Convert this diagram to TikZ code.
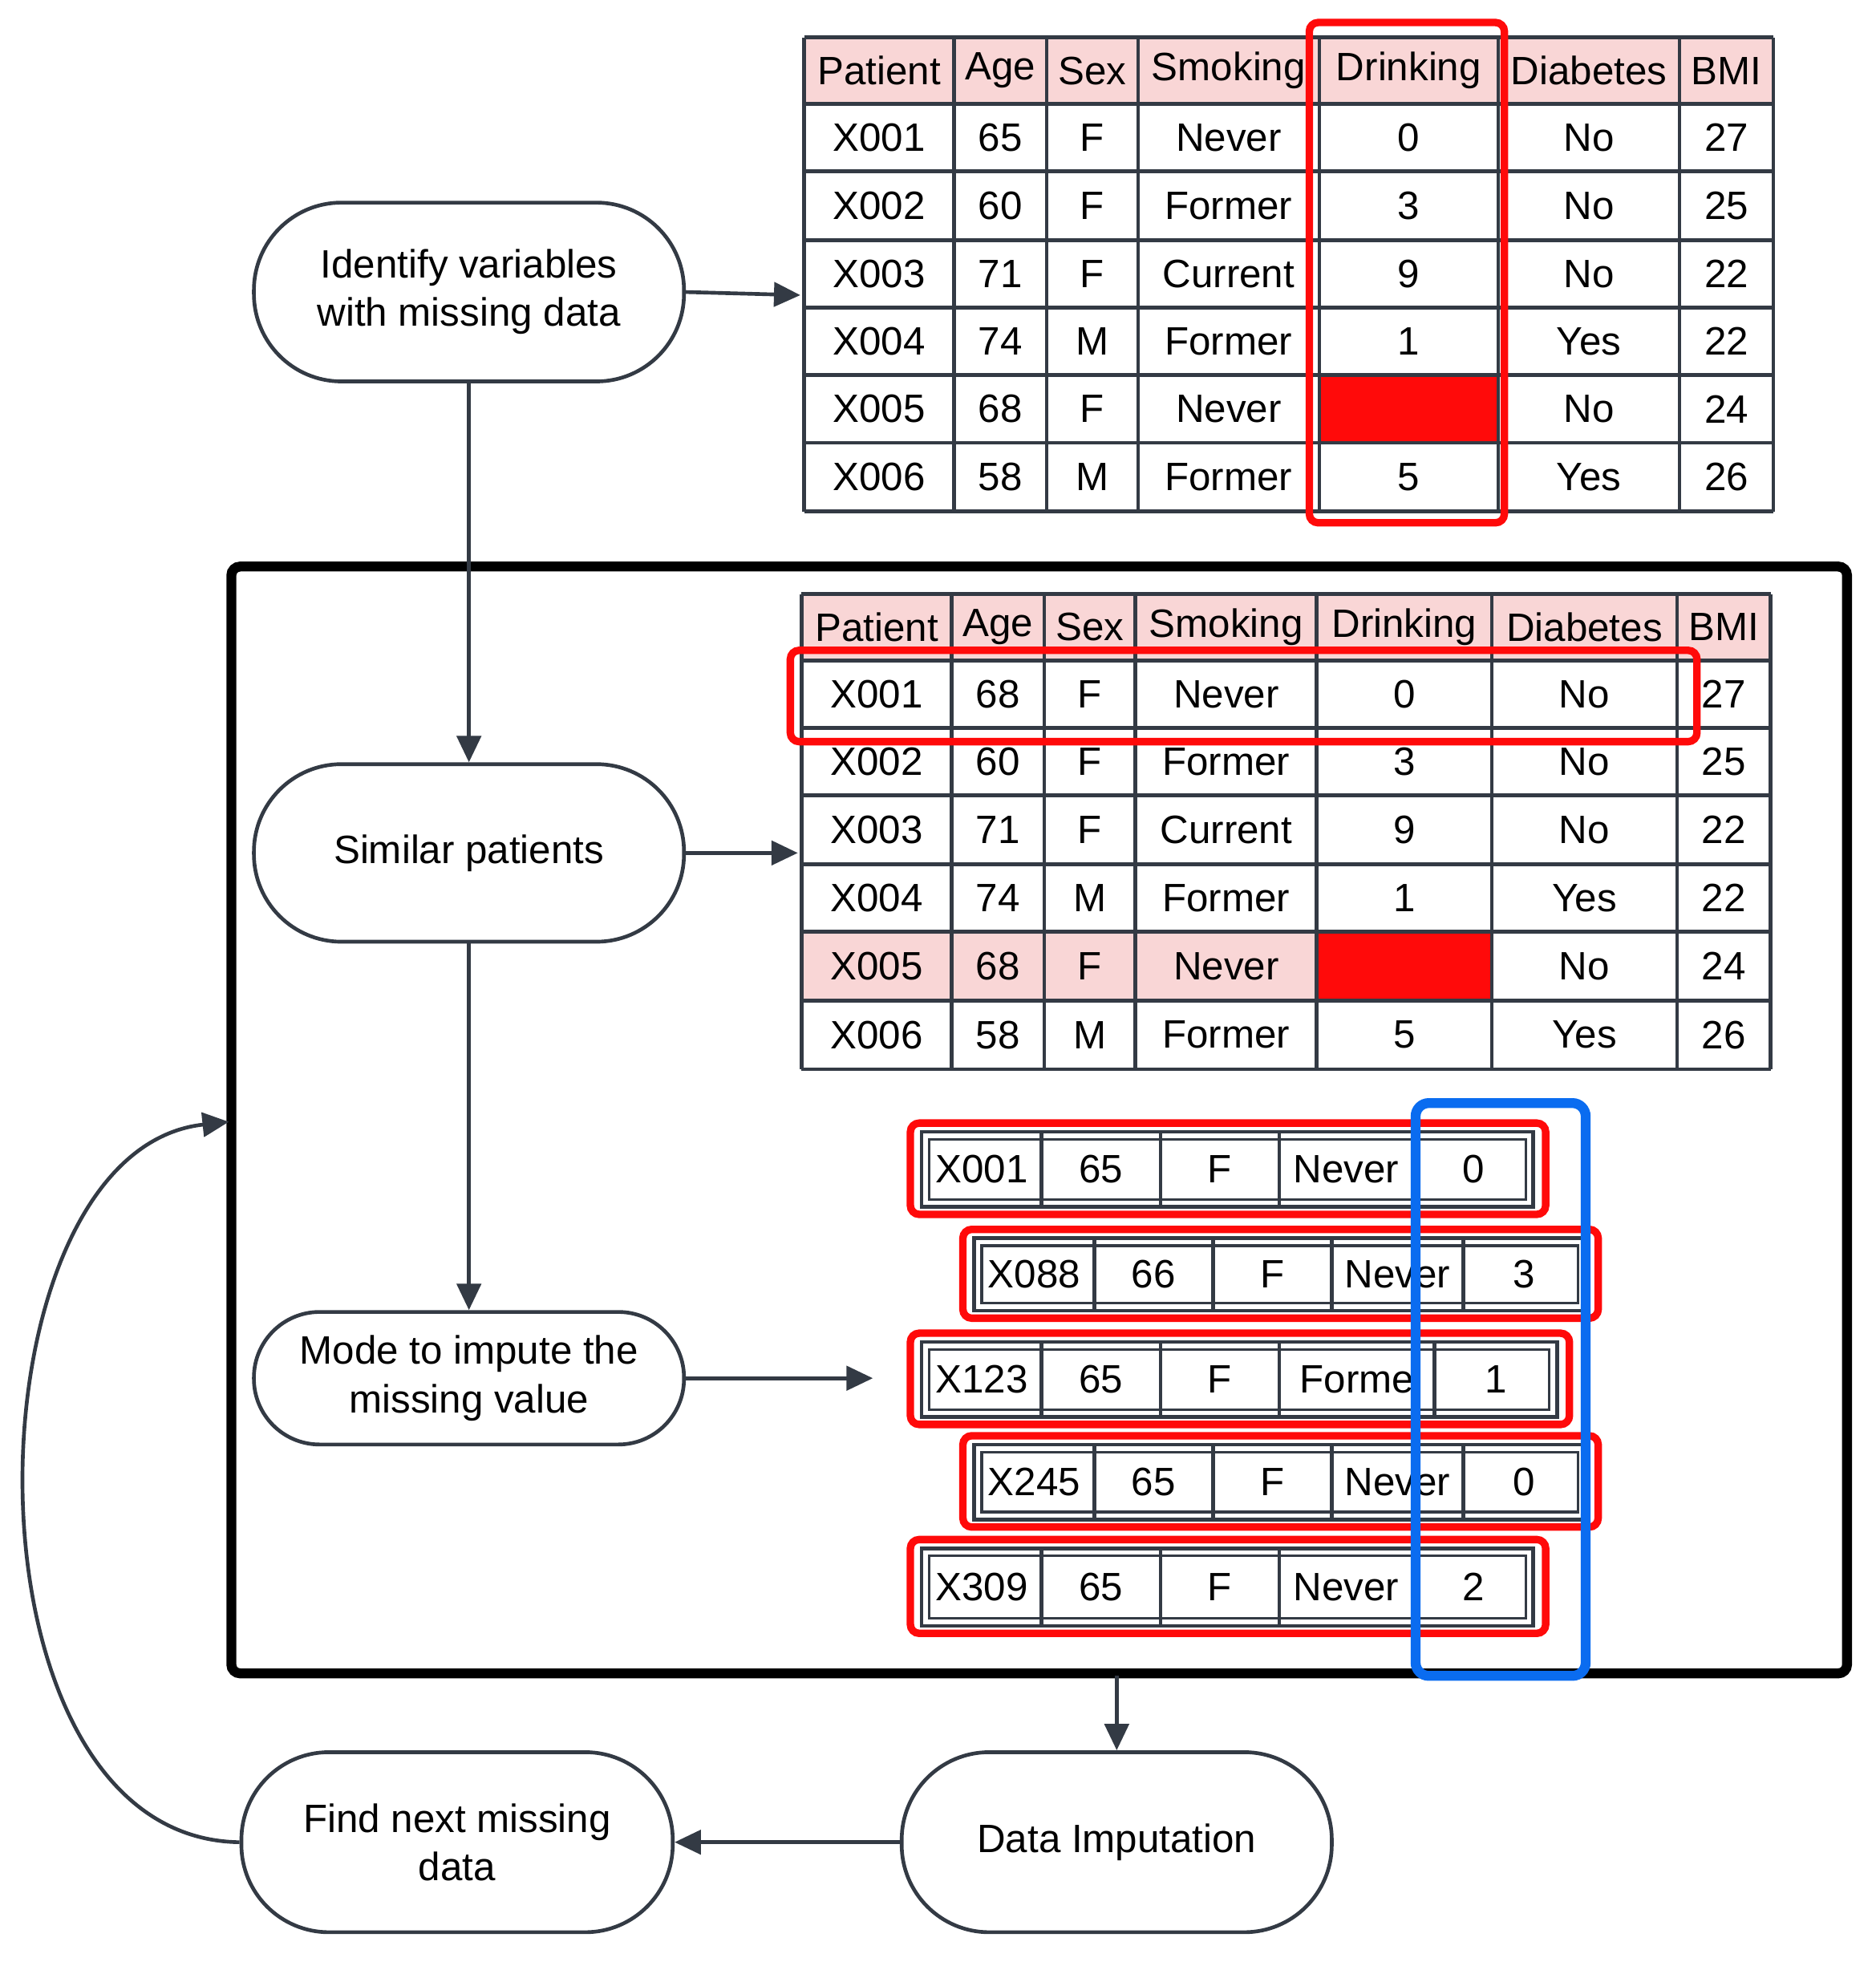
\documentclass[tikz,border=0pt]{standalone}
\usepackage{fontspec}
\setmainfont{Liberation Sans}
\usetikzlibrary{arrows.meta}
\definecolor{gl}{HTML}{333A44}
\definecolor{pk}{HTML}{F9D6D6}
\definecolor{rd}{HTML}{FF0A0A}
\definecolor{bl}{HTML}{0A6CF0}
\begin{document}
\begin{tikzpicture}[x=0.02cm,y=-0.02cm,
  grid/.style={draw=gl,line width=1.7pt},
  txt/.style={font=\fontsize{18}{21}\selectfont,inner sep=0pt},
  stp/.style={draw=gl,line width=1.7pt,rounded corners=1.4cm,align=center,font=\fontsize{18}{22}\selectfont,inner sep=0pt},
  redbox/.style={draw=rd,line width=3.4pt,rounded corners=4pt},
  arr/.style={draw=gl,line width=1.7pt,-{Triangle[length=12pt,width=11pt]}}]
\useasboundingbox (0,0) rectangle (1500,1572);

% ---------- top table
\fill[pk] (643,30) rectangle (1418,83);
\fill[rd] (1055,300) rectangle (1198,354);
\foreach \x in {643,763,837,910,1055,1198,1343,1418} \draw[grid] (\x,30) -- (\x,409);
\foreach \y in {30,83,137,192,246,300,354,409} \draw[grid] (643,\y) -- (1418,\y);
\foreach \r [count=\i] in {{Patient,Age,Sex,Smoking,Drinking,Diabetes,BMI},{X001,65,F,Never,0,No,27},{X002,60,F,Former,3,No,25},{X003,71,F,Current,9,No,22},{X004,74,M,Former,1,Yes,22},{X005,68,F,Never,,No,24},{X006,58,M,Former,5,Yes,26}}{
  \foreach \c [count=\j] in \r {
    \pgfmathsetmacro\cx{{703,800,873.5,982.5,1126.5,1270.5,1380.5}[\j-1]}
    \pgfmathsetmacro\cy{{56.5,110,164.5,219,273,327,381.5}[\i-1]}
    \node[txt] (ta-\i-\j) at (\cx,\cy) {\c};
  }}
\draw[redbox] (1047,18) rectangle (1203,418);

% ---------- big box
\draw[line width=4.5pt,rounded corners=4pt] (185,453) rectangle (1477,1338);
\coordinate (boxL) at (183,897);
\coordinate (boxB) at (893,1340);

% ---------- middle table
\fill[pk] (641,475) rectangle (1416,528);
\fill[pk] (641,745) rectangle (1053,800);
\fill[rd] (1053,745) rectangle (1193,800);
\foreach \x in {641,761,835,908,1053,1193,1341,1416} \draw[grid] (\x,475) -- (\x,855);
\foreach \y in {475,528,582,636,691,745,800,855} \draw[grid] (641,\y) -- (1416,\y);
\foreach \r [count=\i] in {{Patient,Age,Sex,Smoking,Drinking,Diabetes,BMI},{X001,68,F,Never,0,No,27},{X002,60,F,Former,3,No,25},{X003,71,F,Current,9,No,22},{X004,74,M,Former,1,Yes,22},{X005,68,F,Never,,No,24},{X006,58,M,Former,5,Yes,26}}{
  \foreach \c [count=\j] in \r {
    \pgfmathsetmacro\cx{{701,798,871.5,980.5,1123,1267,1378.5}[\j-1]}
    \pgfmathsetmacro\cy{{501.5,555,609,663.5,718,772.5,827.5}[\i-1]}
    \node[txt] (tb-\i-\j) at (\cx,\cy) {\c};
  }}
\draw[redbox] (632,520) rectangle (1357,593);

% ---------- small rows
\foreach \xs/\ya/\yb/\tx [count=\k] in {
  {737,833,928,1023,1130,1226}/905/965/{X001,65,F,Never,0},
  {779,875,970,1065,1170,1268}/990/1048/{X088,66,F,Never,3},
  {737,833,928,1023,1147,1245}/1073/1133/{X123,65,F,Forme,1},
  {779,875,970,1065,1170,1268}/1155/1215/{X245,65,F,Never,0},
  {737,833,928,1023,1130,1226}/1238/1300/{X309,65,F,Never,2}}{
  \pgfmathsetmacro\xa{{\xs}[0]}
  \pgfmathsetmacro\xb{{\xs}[5]}
  \draw[grid] (\xa,\ya) rectangle (\xb,\yb);
  \draw[gl,line width=1.2pt] (\xa+6,\ya+6) rectangle (\xb-6,\yb-6);
  \foreach \m in {1,...,4}{
    \pgfmathsetmacro\xm{{\xs}[\m]}
    \draw[grid] (\xm,\ya) -- (\xm,\yb);}
  \foreach \c [count=\j] in \tx {
    \pgfmathsetmacro\xl{{\xs}[\j-1]}
    \pgfmathsetmacro\xr{{\xs}[\j]}
    \node[txt] (s-\k-\j) at ({(\xl+\xr)/2},{(\ya+\yb)/2}) {\c};}
  \draw[redbox] (\xa-9,\ya-7) rectangle (\xb+10,\yb+6);
}
\draw[draw=bl,line width=4.5pt,rounded corners=6pt] (1132,882) rectangle (1268,1340);

% ---------- step nodes
\node[stp,minimum width=6.88cm,minimum height=2.86cm] (ident) at (375,233.5) {Identify variables\\with missing data};
\node[stp,minimum width=6.88cm,minimum height=2.84cm] (similar) at (375,682) {Similar patients};
\node[stp,minimum width=6.88cm,minimum height=2.12cm,rounded corners=1.05cm] (mode) at (375,1102) {Mode to impute the\\missing value};
\node[stp,minimum width=6.9cm,minimum height=2.88cm] (find) at (365.5,1473) {Find next missing\\data};
\node[stp,minimum width=6.88cm,minimum height=2.88cm] (imput) at (893,1473) {Data Imputation};

\coordinate (tA) at (640,236);
\coordinate (tB) at (638,682);
\coordinate (sR) at (698,1102);
\draw[arr] (ident.east) -- (tA);
\draw[arr] (ident.south) -- (similar.north);
\draw[arr] (similar.east) -- (tB);
\draw[arr] (similar.south) -- (mode.north);
\draw[arr] (mode.east) -- (sR);
\draw[arr] (boxB) -- (imput.north);
\draw[arr] (imput.west) -- (find.east);
\draw[arr] (find.west) .. controls (-40,1470) and (-30,920) .. (boxL);
\end{tikzpicture}
\end{document}
